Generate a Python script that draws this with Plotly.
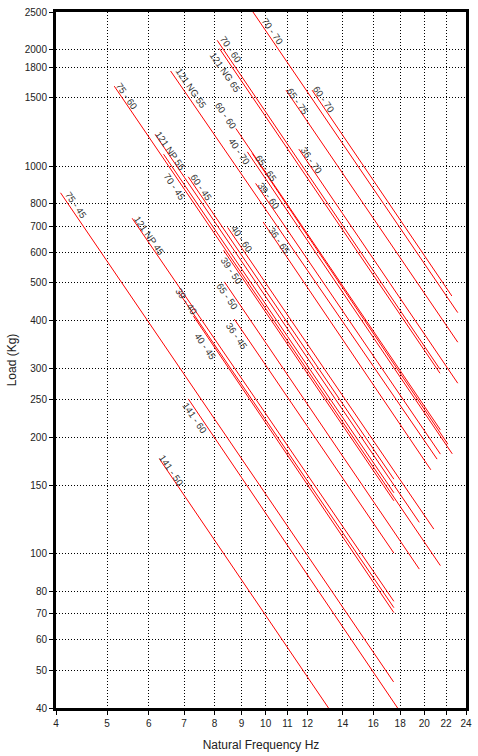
import numpy as np
import plotly.graph_objects as go

# ---- data (frequency Hz, load Kg) ----
labels = ["75 - 45", "121 NP 45", "39 - 40", "40 - 45", "141 - 60", "141 - 50",
          "75 - 60", "121 NP 55", "70 - 45", "60 - 45", "40 - 60", "39 - 50",
          "65 - 50", "36 - 45", "121 NG 55", "60 - 60", "40 - 70", "65 - 65",
          "39 - 60", "36 - 65", "70 - 70", "70 - 60", "121 NG 65", "65 - 75",
          "60 - 70", "36 - 70"]
f_start = [4.08, 5.58, 6.83, 7.29, 7.13, 6.29,
           5.16, 6.17, 6.40, 7.13, 8.47, 8.32,
           8.35, 8.72, 6.60, 8.78, 9.23, 9.43,
           9.57, 9.89, 9.46, 8.09, 8.17, 10.93,
           12.25, 11.56]
load_start = [854, 734, 474, 411, 251, 175.5,
              1609, 1208, 1074, 939, 695, 607,
              503, 403, 1761, 1251, 1089, 1079,
              903, 718, 2500, 2113, 2012, 1571,
              1571, 1107]
f_end = [17.49, 17.51, 17.51, 17.51, 17.80, 13.16,
         21.46, 19.57, 17.51, 17.51, 20.85, 17.51,
         19.57, 17.51, 21.15, 21.46, 22.60, 22.17,
         21.46, 20.58, 23.15, 21.42, 21.42, 23.15,
         22.56, 23.15]
load_end = [46.7, 75.4, 72.6, 70.5, 40, 40,
            93.2, 120.5, 143.7, 155.8, 115.8, 137,
            91.3, 100.4, 175.5, 208.8, 181.1, 191.8,
            180.8, 164.7, 419, 299.3, 292.3, 351.5,
            462.6, 275.5]

x_ticks = [4, 5, 6, 7, 8, 9, 10, 11, 12, 14, 16, 18, 20, 22, 24]
y_ticks = [40, 50, 60, 70, 80, 100, 150, 200, 250, 300, 400, 500, 600, 700,
           800, 1000, 1500, 1800, 2000, 2500]

# label pixel offsets from each line start (layout only)
label_dx = [15, 17, 8, 12, 6, 12, 13, 15, 11, 13, 14, 8, 3, 3, 20, -10, -8, 14,
            13, 16, 20, 14, 6, 12, 12, 13]
label_dy = [12, 17, 10, 31, 19, 11, 10, 16, 32, 11, 11, 20, 15, 17, 17, -13, 0, 15,
            12, 19, 19, 9, 24, 11, 9, 11]

FONT = "Liberation Sans, Arial, sans-serif"

fig = go.Figure()
for i, name in enumerate(labels):
    fig.add_trace(go.Scatter(
        x=[f_start[i], f_end[i]], y=[load_start[i], load_end[i]],
        mode="lines", line=dict(color="#ff0000", width=1),
        name=name, showlegend=False, hoverinfo="skip"))
    fig.add_annotation(
        x=np.log10(f_start[i]), y=np.log10(load_start[i]),
        text=name, showarrow=False, textangle=55.5,
        xshift=label_dx[i], yshift=-label_dy[i],
        font=dict(family=FONT, size=9.5, color="#333333"))

axis_common = dict(
    type="log", showline=True, mirror=True, linewidth=3, linecolor="black",
    showgrid=True, gridcolor="black", gridwidth=1, griddash="1px,2px",
    ticks="outside", ticklen=4, tickwidth=1, tickcolor="black",
    zeroline=False, tickfont=dict(family=FONT, size=10, color="#222"),
)
fig.update_xaxes(
    range=[np.log10(4), np.log10(24)], tickmode="array",
    tickvals=x_ticks, ticktext=[str(v) for v in x_ticks],
    title=dict(text="Natural Frequency Hz", standoff=13,
               font=dict(family=FONT, size=12, color="#222")),
    **axis_common)
fig.update_yaxes(
    range=[np.log10(40), np.log10(2500)], tickmode="array",
    tickvals=y_ticks, ticktext=[str(v) for v in y_ticks],
    title=dict(text="Load (Kg)", standoff=6,
               font=dict(family=FONT, size=12, color="#222")),
    **axis_common)
fig.update_layout(
    width=478, height=756,
    margin=dict(l=56, r=6, t=12, b=48),
    plot_bgcolor="white", paper_bgcolor="white",
)
fig.write_html("out.html", config={"displayModeBar": False, "staticPlot": True},
               post_script="document.body.style.margin='0px';document.body.style.overflow='hidden';")
